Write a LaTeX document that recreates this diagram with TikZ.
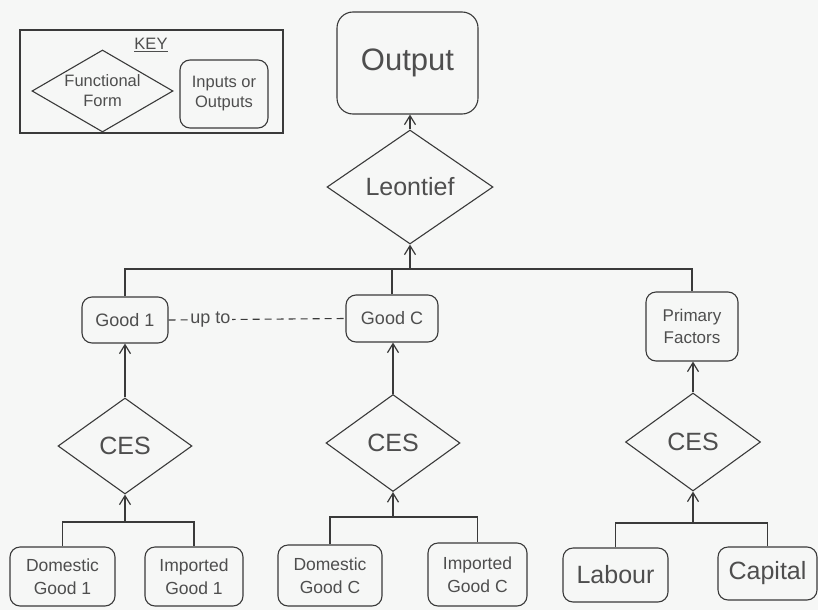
\documentclass[tikz,border=0pt]{standalone}
\usepackage{fontspec}
\setmainfont{Liberation Sans}
\usetikzlibrary{shapes.geometric,arrows.meta}
\definecolor{ink}{HTML}{3A3A3A}
\definecolor{txt}{HTML}{4E4E4E}
\definecolor{paper}{HTML}{F6F7F6}

\begin{document}
\begin{tikzpicture}[x=1pt,y=-1pt,
  line width=1.1pt, draw=ink,
  every node/.style={text=txt},
  box/.style 2 args={draw=ink, rectangle, rounded corners=10pt, inner sep=0pt,
    align=center, minimum width=#1, minimum height=#2},
  fform/.style 2 args={draw=ink, diamond, inner sep=0pt,
    minimum width=#1, minimum height=#2},
  arr/.style={-{Straight Barb[length=9pt,width=11pt,line width=1.2pt]}},
  big/.style={font=\fontsize{25}{30}\selectfont},
  mid/.style={font=\fontsize{18}{23}\selectfont},
  two/.style={font=\fontsize{17.5}{23}\selectfont},
  keyf/.style={font=\fontsize{16.5}{20}\selectfont},
]
% page
\fill[paper] (0,0) rectangle (818,610);
\useasboundingbox (0,0) rectangle (818,610);

% ---- key ----
\node[draw=ink, line width=1.3pt, rectangle, inner sep=0pt,
      minimum width=263, minimum height=103] (keybox) at (151.5,81.5) {};
\node[keyf] (keytitle) at (151,45) {\underline{KEY}};
\node[fform={141}{82}, label={[keyf, align=center]center:Functional\\Form}]
  (keyform) at (102.5,91) {};
\node[box={88}{68}, keyf] (keyio) at (224,94) {Inputs or\\Outputs};

% ---- top level ----
\node[box={141}{102}, rounded corners=16pt, font=\fontsize{31}{36}\selectfont]
  (out) at (407.5,63) {Output};
\node[fform={166}{114}, label={[big]center:Leontief}] (leon) at (410,187) {};

% ---- composite goods and factors ----
\node[box={86}{46}, mid] (good1) at (125,320) {Good 1};
\node[box={92}{47}, mid] (goodc) at (392,318.5) {Good C};
\node[box={92}{69}, font=\fontsize{17}{22}\selectfont] (pf) at (692,326.5) {Primary\\Factors};

% ---- CES nests ----
\node[fform={134}{96}, label={[big]center:CES}] (ces1) at (125,446) {};
\node[fform={134}{97}, label={[big]center:CES}] (ces2) at (393,443) {};
\node[fform={135}{98}, label={[big]center:CES}] (ces3) at (693,442) {};

% ---- bottom level ----
\node[box={105}{59}, two] (dom1) at (62.5,576.5) {Domestic\\Good 1};
\node[box={98}{59},  two] (imp1) at (194,576.5) {Imported\\Good 1};
\node[box={104}{61}, two] (domc) at (330,575.5) {Domestic\\Good C};
\node[box={99}{63},  two] (impc) at (477.5,574.5) {Imported\\Good C};
\node[box={105}{54}, big] (lab) at (615.5,575) {Labour};
\node[box={99}{53},  big] (cap) at (767.5,573.5) {Capital};

% ---- connectors ----
\coordinate (tbus) at (410,269);
\draw (good1.north) |- (tbus) -| (pf.north);
\draw (goodc.north) -- (goodc.north |- tbus);
\draw[arr] (tbus) -- (leon.south);
\draw[arr] (leon.north) -- (leon.north |- out.south);

\draw[arr] (ces1.north) -- (ces1.north |- good1.south);
\draw[arr] (ces2.north) -- (ces2.north |- goodc.south);
\draw[arr] (ces3.north) -- (ces3.north |- pf.south);

\coordinate (bus1) at (125,522);
\coordinate (bus2) at (393,517);
\coordinate (bus3) at (693,523);
\draw (dom1.north) |- (bus1) -| (imp1.north);
\draw[arr] (bus1) -- (ces1.south);
\draw (domc.north) |- (bus2) -| (impc.north);
\draw[arr] (bus2) -- (ces2.south);
\draw (lab.north) |- (bus3) -| (cap.north);
\draw[arr] (bus3) -- (ces3.south);

% ---- "up to" range ----
\draw[dash pattern=on 7pt off 5pt] (good1.east) -- (goodc.west)
  node[pos=0.236, fill=paper, inner sep=2pt, mid] (upto) {up to};
\end{tikzpicture}
\end{document}
